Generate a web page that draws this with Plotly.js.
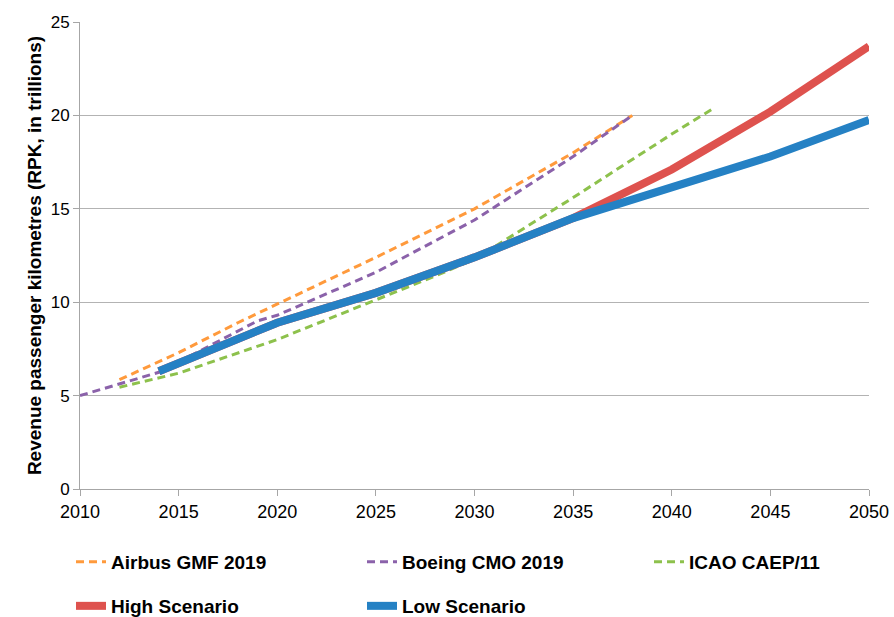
<!DOCTYPE html>
<html>
<head>
<meta charset="utf-8">
<script src="https://cdn.plot.ly/plotly-3.0.1.min.js"></script>
<style>html,body{margin:0;padding:0;background:#fff;}#chart{width:894px;height:617px;}</style>
</head>
<body>
<div id="chart"></div>
<script>
// Data
var airbusYears = [2012, 2015, 2018, 2020, 2025, 2030, 2035, 2038];
var airbusValues = [5.85, 7.3, 8.9, 9.9, 12.4, 15.0, 18.0, 20.0];

var boeingYears = [2010, 2014, 2019, 2020, 2025, 2030, 2035, 2038];
var boeingValues = [5.0, 6.25, 9.0, 9.3, 11.6, 14.4, 17.8, 20.0];

var icaoYears = [2012, 2015, 2020, 2025, 2028, 2030, 2035, 2040, 2042];
var icaoValues = [5.45, 6.2, 8.0, 10.1, 11.4, 12.3, 15.6, 19.0, 20.3];

var highYears = [2014, 2020, 2025, 2030, 2035, 2040, 2045, 2050];
var highValues = [6.3, 8.9, 10.5, 12.4, 14.5, 17.1, 20.2, 23.7];

var lowYears = [2014, 2020, 2025, 2030, 2035, 2040, 2045, 2050];
var lowValues = [6.3, 8.9, 10.5, 12.4, 14.5, 16.1, 17.8, 19.75];

var xTicks = [2010, 2015, 2020, 2025, 2030, 2035, 2040, 2045, 2050];
var yTicks = [0, 5, 10, 15, 20, 25];

var font = "Liberation Sans, Arial, sans-serif";
var dashPat = "8px,5px";
var W = 894, H = 617;

var traces = [
  {x: airbusYears, y: airbusValues, name: "Airbus GMF 2019", type: "scatter", mode: "lines",
   line: {color: "#FF9A3C", width: 3, dash: dashPat}, legend: "legend"},
  {x: boeingYears, y: boeingValues, name: "Boeing CMO 2019", type: "scatter", mode: "lines",
   line: {color: "#8B62AA", width: 3, dash: dashPat}, legend: "legend2"},
  {x: icaoYears, y: icaoValues, name: "ICAO CAEP/11", type: "scatter", mode: "lines",
   line: {color: "#8DC14C", width: 3, dash: dashPat}, legend: "legend3"},
  {x: highYears, y: highValues, name: "High Scenario", type: "scatter", mode: "lines",
   line: {color: "#DE524E", width: 8}, legend: "legend4"},
  {x: lowYears, y: lowValues, name: "Low Scenario", type: "scatter", mode: "lines",
   line: {color: "#2581C4", width: 8}, legend: "legend5"}
];

function legendAt(px, py) {
  return {
    orientation: "h", xref: "container", yref: "container",
    xanchor: "left", yanchor: "middle", x: px / W, y: (H - py) / H,
    font: {family: font, size: 19, color: "#000", weight: "bold"},
    bgcolor: "rgba(0,0,0,0)"
  };
}

var layout = {
  width: W, height: H,
  margin: {l: 80, r: 25, t: 22, b: 128},
  paper_bgcolor: "#fff", plot_bgcolor: "#fff",
  showlegend: true,
  xaxis: {
    range: [2010, 2050], tickvals: xTicks, ticktext: xTicks.map(String),
    showgrid: false, zeroline: false, showline: true, linecolor: "#a6a6a6", linewidth: 1,
    ticks: "outside", ticklen: 6, tickcolor: "#a6a6a6",
    tickfont: {family: font, size: 18, color: "#000"}, fixedrange: true, automargin: false
  },
  yaxis: {
    range: [0, 25], tickvals: yTicks,
    showgrid: true, gridcolor: "#b3b3b3", gridwidth: 1, zeroline: false,
    showline: true, linecolor: "#a6a6a6", linewidth: 1,
    ticks: "outside", ticklen: 6, tickcolor: "#a6a6a6",
    tickfont: {family: font, size: 17, color: "#000"},
    title: {text: "Revenue passenger kilometres (RPK, in trillions)",
            font: {family: font, size: 19, color: "#000", weight: "bold"}, standoff: 4},
    automargin: false, fixedrange: true
  },
  legend: legendAt(71, 562),
  legend2: legendAt(362, 562),
  legend3: legendAt(649, 562),
  legend4: legendAt(71, 606),
  legend5: legendAt(362, 606)
};

Plotly.newPlot("chart", traces, layout, {displayModeBar: false, staticPlot: true});
</script>
</body>
</html>
